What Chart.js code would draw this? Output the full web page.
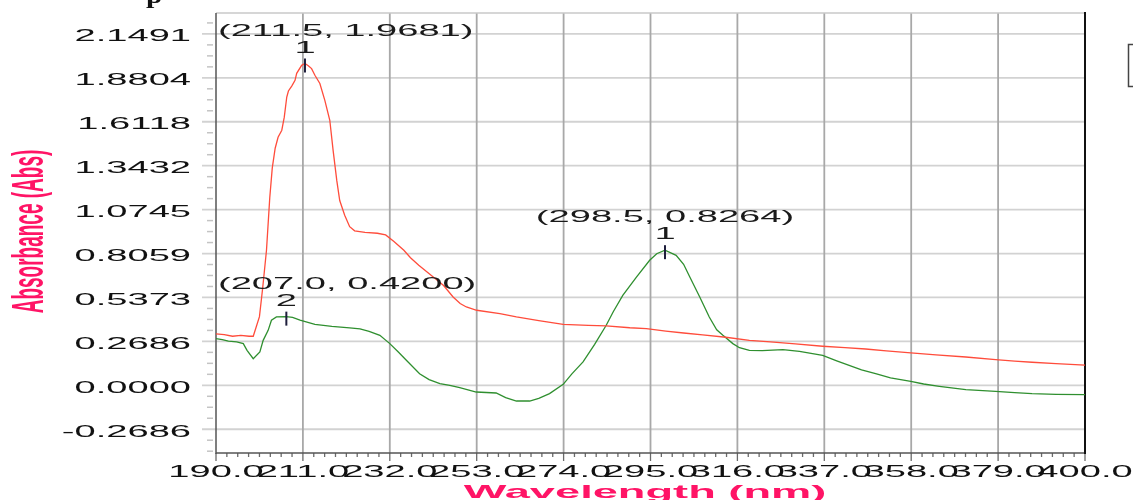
<!DOCTYPE html>
<html>
<head>
<meta charset="utf-8">
<script src="https://cdn.jsdelivr.net/npm/chart.js@4.4.1/dist/chart.umd.min.js"></script>
<style>
  html, body { margin: 0; padding: 0; background: #ffffff; }
  #wrap { position: relative; width: 1133px; height: 500px; }
</style>
</head>
<body>
<div id="wrap"><canvas id="spectrum"></canvas></div>
<script>
// ---- Sample 1 (red trace): wavelength (nm) / absorbance (Abs)
const wavelengthsRed = [190, 192, 194, 196, 198, 199, 199.5, 200.5, 201.3, 202.2, 203, 203.6, 204.3, 205,
  205.9, 206.5, 207.1, 207.5, 208.3, 209.1, 209.5, 210.7, 211.5, 212.3, 213.1, 213.9, 215.1, 216.3,
  217.5, 218.3, 219.2, 219.9, 221.1, 222.3, 223.5, 226, 229, 231, 233, 235.4, 237, 239, 242.5, 245,
  247.3, 249, 250.5, 253, 258.6, 262.6, 268, 273.9, 280, 284.3, 290, 294, 298.7, 303, 307.6, 313.2,
  318.9, 324, 330, 336.6, 342, 347, 352, 357.9, 364, 371.2, 378.4, 383, 387.2, 393, 400];
const absorbanceRed = [0.315, 0.31, 0.30, 0.305, 0.30, 0.30, 0.34, 0.42, 0.60, 0.826, 1.15, 1.33, 1.45, 1.517,
  1.56, 1.64, 1.763, 1.80, 1.83, 1.865, 1.908, 1.957, 1.9681, 1.955, 1.937, 1.896, 1.846, 1.743,
  1.621, 1.437, 1.25, 1.13, 1.04, 0.97, 0.945, 0.935, 0.93, 0.92, 0.88, 0.826, 0.78, 0.734, 0.662, 0.61,
  0.54, 0.50, 0.479, 0.459, 0.438, 0.418, 0.395, 0.373, 0.366, 0.363, 0.352, 0.347, 0.332, 0.32, 0.308, 0.294,
  0.275, 0.266, 0.253, 0.239, 0.23, 0.222, 0.21, 0.198, 0.186, 0.173, 0.157, 0.148, 0.141, 0.132, 0.124];

// ---- Sample 2 (green trace)
const wavelengthsGreen = [190, 191.5, 193, 195, 196.6, 197.5, 199, 200.6, 201.4, 202.6, 203.4, 204.6, 207,
  208.5, 210.3, 213.9, 218, 222.3, 224.8, 227, 229.6, 232, 234, 236, 239.2, 241.5, 244.1, 246.5, 248.9,
  252.9, 257.7, 260, 262.6, 265.8, 268, 270.6, 273.9, 276, 278.7, 281.5, 284.3, 286, 288.3, 291.6, 294.8,
  296.5, 298.5, 301.2, 303, 304.5, 306.9, 309.2, 311, 312.5, 314.9, 316.5, 318.9, 322, 327, 331, 336.6,
  340, 343, 346, 349.4, 353, 357.9, 361, 364.8, 371.2, 378.4, 383, 387.2, 393, 400];
const absorbanceGreen = [0.285, 0.28, 0.27, 0.265, 0.255, 0.214, 0.163, 0.204, 0.275, 0.336, 0.398, 0.418, 0.42,
  0.415, 0.398, 0.373, 0.36, 0.351, 0.345, 0.33, 0.306, 0.255, 0.205, 0.153, 0.071, 0.035, 0.01, 0.0, -0.014,
  -0.041, -0.047, -0.075, -0.096, -0.096, -0.08, -0.051, 0.006, 0.07, 0.143, 0.25, 0.367, 0.45, 0.55, 0.662, 0.765,
  0.805, 0.8264, 0.795, 0.74, 0.662, 0.54, 0.418, 0.34, 0.306, 0.255, 0.23, 0.214, 0.212, 0.218, 0.208, 0.183,
  0.15, 0.122, 0.095, 0.071, 0.045, 0.024, 0.008, -0.006, -0.026, -0.037, -0.045, -0.051, -0.055, -0.057];

// ---- Picked peaks
const peakWavelengths = [211.5, 298.5, 207.0];
const peakValues = [1.9681, 0.8264, 0.4200];
const peakNumbers = ['1', '1', '2'];

// ---- Axis ticks
const xTickValues = [190, 211, 232, 253, 274, 295, 316, 337, 358, 379, 400];
const xTickLabels = ['190.0', '211.0', '232.0', '253.0', '274.0', '295.0', '316.0', '337.0', '358.0', '379.0', '400.0'];
const yTickValues = [-0.26864, 0, 0.26864, 0.53728, 0.80592, 1.07456, 1.3432, 1.61184, 1.88048, 2.14912];
const yTickLabels = ['-0.2686', '0.0000', '0.2686', '0.5373', '0.8059', '1.0745', '1.3432', '1.6118', '1.8804', '2.1491'];

const xTitle = 'Wavelength (nm)';
const yTitle = 'Absorbance (Abs)';

const X_MIN = 190, X_MAX = 400, Y_MIN = -0.414, Y_MAX = 2.277;
const X_MINOR_DIV = 8, Y_MINOR_DIV = 4;
const STRETCH = 2.38;             // wide lettering of the instrument software
const LABEL_FONT = '16px "Liberation Sans", Arial, sans-serif';
const TITLE_FONT = 'bold 19px "Liberation Sans", Arial, sans-serif';
const TITLE_COLOR = '#ff1466';

function pairs(xs, ys) { return xs.map((x, i) => ({ x: x, y: ys[i] })); }

function stretchedText(ctx, text, x, y, align, font, color, sx) {
  ctx.save();
  ctx.font = font;
  ctx.fillStyle = color;
  ctx.textAlign = 'left';
  ctx.textBaseline = 'alphabetic';
  const w = ctx.measureText(text).width * sx;
  const left = align === 'center' ? x - w / 2 : (align === 'right' ? x - w : x);
  ctx.translate(left, y);
  ctx.scale(sx, 1);
  ctx.fillText(text, 0, 0);
  ctx.restore();
  return w;
}

function hLine(ctx, x1, x2, y, color, lw) {
  ctx.beginPath(); ctx.strokeStyle = color; ctx.lineWidth = lw;
  ctx.moveTo(x1, y); ctx.lineTo(x2, y); ctx.stroke();
}
function vLine(ctx, x, y1, y2, color, lw) {
  ctx.beginPath(); ctx.strokeStyle = color; ctx.lineWidth = lw;
  ctx.moveTo(x, y1); ctx.lineTo(x, y2); ctx.stroke();
}

// Grid, axis lines and tick marks, drawn beneath the traces
const framePlugin = {
  id: 'spectrumFrame',
  beforeDatasetsDraw(chart) {
    const ctx = chart.ctx, a = chart.chartArea;
    const xs = chart.scales.x, ys = chart.scales.y;
    ctx.save();
    // horizontal grid (light) with its major tick extension
    yTickValues.forEach(v => {
      const py = ys.getPixelForValue(v);
      hLine(ctx, a.left - 14, a.right, py, '#d2d2d2', 1.8);
    });
    // minor y ticks
    const yStep = (yTickValues[1] - yTickValues[0]) / Y_MINOR_DIV;
    for (let k = Math.ceil(Y_MIN / yStep); k * yStep <= Y_MAX + 1e-9; k++) {
      if (k % Y_MINOR_DIV === 0) continue;
      const py = ys.getPixelForValue(k * yStep);
      hLine(ctx, a.left - 9, a.left - 3, py, '#c4c4c4', 1.5);
    }
    // vertical grid (darker)
    xTickValues.forEach(v => {
      const px = xs.getPixelForValue(v);
      if (px > a.left + 1 && px < a.right - 1) vLine(ctx, px, a.top, a.bottom, '#a8a8a8', 1.8);
    });
    // x ticks below the axis
    const xStep = (xTickValues[1] - xTickValues[0]) / X_MINOR_DIV;
    for (let k = 0; X_MIN + k * xStep <= X_MAX + 1e-9; k++) {
      const px = xs.getPixelForValue(X_MIN + k * xStep);
      const major = k % X_MINOR_DIV === 0;
      vLine(ctx, px, a.bottom, a.bottom + (major ? 8 : 4), '#6a6a6a', 1.3);
    }
    // frame
    hLine(ctx, a.left, a.right, a.top, '#c8c8c8', 1.5);
    vLine(ctx, a.left, a.top, a.bottom + 1, '#555555', 1.5);
    hLine(ctx, a.left, a.right, a.bottom, '#555555', 1.5);
    vLine(ctx, a.right, a.top - 1, a.bottom + 1, '#111111', 2);
    ctx.restore();
  },
  afterDatasetsDraw(chart) {
    const ctx = chart.ctx, a = chart.chartArea;
    const xs = chart.scales.x, ys = chart.scales.y;
    ctx.save();
    // y tick labels
    yTickValues.forEach((v, i) => {
      const py = ys.getPixelForValue(v);
      stretchedText(ctx, yTickLabels[i], a.left - 25, py + 7.5, 'right', LABEL_FONT, '#111111', STRETCH);
    });
    // x tick labels
    xTickValues.forEach((v, i) => {
      const px = xs.getPixelForValue(v);
      stretchedText(ctx, xTickLabels[i], px, a.bottom + 24, 'center', LABEL_FONT, '#111111', STRETCH);
    });
    // peak markers and captions
    peakWavelengths.forEach((w, i) => {
      const px = xs.getPixelForValue(w), py = ys.getPixelForValue(peakValues[i]);
      vLine(ctx, px, py - 5, py + 9, '#1e1e3c', 2);
      stretchedText(ctx, peakNumbers[i], px, py - 11, 'center', LABEL_FONT, '#1a1a1a', STRETCH);
      const caption = '(' + w.toFixed(1) + ', ' + peakValues[i].toFixed(4) + ')';
      ctx.font = LABEL_FONT;
      const cw = ctx.measureText(caption).width * STRETCH;
      const left = Math.max(a.left + 2, px - cw / 2);
      stretchedText(ctx, caption, left, py - 28, 'left', LABEL_FONT, '#1a1a1a', STRETCH);
    });
    // axis titles
    stretchedText(ctx, xTitle, 645, 498, 'center', TITLE_FONT, TITLE_COLOR, STRETCH);
    ctx.save();
    ctx.font = TITLE_FONT;
    ctx.fillStyle = TITLE_COLOR;
    ctx.textAlign = 'center';
    ctx.textBaseline = 'alphabetic';
    ctx.translate(43, 231.5);
    ctx.rotate(-Math.PI / 2);
    ctx.scale(1, STRETCH);
    ctx.fillText(yTitle, 0, 0);
    ctx.restore();
    // edge of the legend frame at the right border of the page
    ctx.strokeStyle = '#444444';
    ctx.lineWidth = 1.5;
    ctx.strokeRect(1128.5, 44.5, 30, 42);
    // descender of the heading line above the plot
    ctx.save();
    ctx.font = 'bold 26px "Liberation Serif", "Times New Roman", serif';
    ctx.fillStyle = '#111111';
    ctx.textBaseline = 'alphabetic';
    ctx.translate(146, 3);
    ctx.scale(1.15, 1);
    ctx.fillText('p', 0, 0);
    ctx.restore();
    ctx.restore();
  }
};

new Chart(document.getElementById('spectrum'), {
  type: 'line',
  data: {
    datasets: [
      {
        label: 'Sample 1',
        data: pairs(wavelengthsRed, absorbanceRed),
        borderColor: '#ff4c3b',
        borderWidth: 1.3,
        pointRadius: 0,
        tension: 0,
        fill: false
      },
      {
        label: 'Sample 2',
        data: pairs(wavelengthsGreen, absorbanceGreen),
        borderColor: '#2f8f2f',
        borderWidth: 1.3,
        pointRadius: 0,
        tension: 0,
        fill: false
      }
    ]
  },
  options: {
    responsive: true,
    maintainAspectRatio: false,
    animation: false,
    devicePixelRatio: 1,
    layout: { padding: { left: 216, right: 48, top: 13, bottom: 47 } },
    plugins: { legend: { display: false }, tooltip: { enabled: false } },
    scales: {
      x: { type: 'linear', min: X_MIN, max: X_MAX, display: false },
      y: { type: 'linear', min: Y_MIN, max: Y_MAX, display: false }
    }
  },
  plugins: [framePlugin]
});
</script>
</body>
</html>
